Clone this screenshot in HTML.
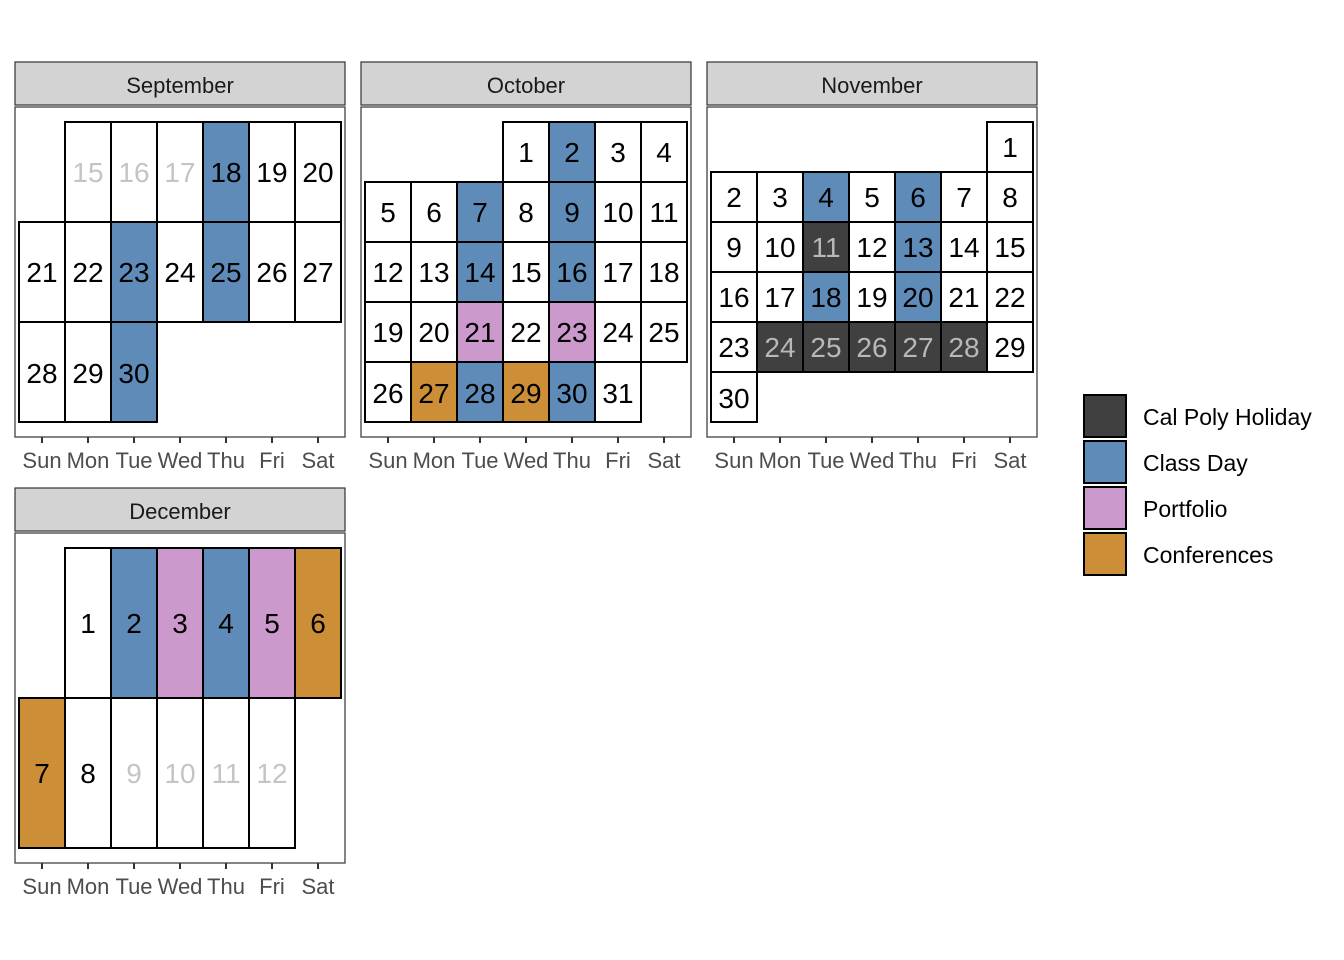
<!DOCTYPE html>
<html><head><meta charset="utf-8"><style>
body{margin:0;background:#fff}
svg{display:block;font-family:"Liberation Sans",Arial,sans-serif}
.c{fill:#fff;stroke:#000;stroke-width:2}
.b{fill:#5f8bb8}.p{fill:#cc99cc}.o{fill:#cc8e36}.d{fill:#404040}
.n{font-size:28px;text-anchor:middle;fill:#000}
.g{fill:#c4c4c4}
.h{fill:#b8b8b8}
.ax{font-size:22px;text-anchor:middle;fill:#4d4d4d}
.st{font-size:22px;text-anchor:middle;fill:#1a1a1a}
.strip{fill:#d3d3d3;stroke:#333;stroke-width:1.2}
.pn{fill:#fff;stroke:#333;stroke-width:1.2}
.tk{stroke:#333;stroke-width:2}
.lg{font-size:23px;fill:#000}
</style></head><body>
<svg width="1344" height="960" viewBox="0 0 1344 960">
<!-- September -->
<rect class="strip" x="15" y="62" width="330" height="43"/><text class="st" x="180" y="93">September</text>
<rect class="pn" x="15" y="107" width="330" height="330"/>
<g>
<rect class="c" x="65" y="122" width="46" height="100"/><text class="n g" x="88" y="182">15</text>
<rect class="c" x="111" y="122" width="46" height="100"/><text class="n g" x="134" y="182">16</text>
<rect class="c" x="157" y="122" width="46" height="100"/><text class="n g" x="180" y="182">17</text>
<rect class="c b" x="203" y="122" width="46" height="100"/><text class="n" x="226" y="182">18</text>
<rect class="c" x="249" y="122" width="46" height="100"/><text class="n" x="272" y="182">19</text>
<rect class="c" x="295" y="122" width="46" height="100"/><text class="n" x="318" y="182">20</text>
<rect class="c" x="19" y="222" width="46" height="100"/><text class="n" x="42" y="282">21</text>
<rect class="c" x="65" y="222" width="46" height="100"/><text class="n" x="88" y="282">22</text>
<rect class="c b" x="111" y="222" width="46" height="100"/><text class="n" x="134" y="282">23</text>
<rect class="c" x="157" y="222" width="46" height="100"/><text class="n" x="180" y="282">24</text>
<rect class="c b" x="203" y="222" width="46" height="100"/><text class="n" x="226" y="282">25</text>
<rect class="c" x="249" y="222" width="46" height="100"/><text class="n" x="272" y="282">26</text>
<rect class="c" x="295" y="222" width="46" height="100"/><text class="n" x="318" y="282">27</text>
<rect class="c" x="19" y="322" width="46" height="100"/><text class="n" x="42" y="383">28</text>
<rect class="c" x="65" y="322" width="46" height="100"/><text class="n" x="88" y="383">29</text>
<rect class="c b" x="111" y="322" width="46" height="100"/><text class="n" x="134" y="383">30</text>
</g>
<g class="tk"><line x1="42" y1="437" x2="42" y2="443"/><line x1="88" y1="437" x2="88" y2="443"/><line x1="134" y1="437" x2="134" y2="443"/><line x1="180" y1="437" x2="180" y2="443"/><line x1="226" y1="437" x2="226" y2="443"/><line x1="272" y1="437" x2="272" y2="443"/><line x1="318" y1="437" x2="318" y2="443"/></g>
<text class="ax" x="42" y="468">Sun</text><text class="ax" x="88" y="468">Mon</text><text class="ax" x="134" y="468">Tue</text><text class="ax" x="180" y="468">Wed</text><text class="ax" x="226" y="468">Thu</text><text class="ax" x="272" y="468">Fri</text><text class="ax" x="318" y="468">Sat</text>

<!-- October -->
<rect class="strip" x="361" y="62" width="330" height="43"/><text class="st" x="526" y="93">October</text>
<rect class="pn" x="361" y="107" width="330" height="330"/>
<rect class="c" x="503" y="122" width="46" height="60"/><text class="n" x="526" y="162">1</text>
<rect class="c b" x="549" y="122" width="46" height="60"/><text class="n" x="572" y="162">2</text>
<rect class="c" x="595" y="122" width="46" height="60"/><text class="n" x="618" y="162">3</text>
<rect class="c" x="641" y="122" width="46" height="60"/><text class="n" x="664" y="162">4</text>
<rect class="c" x="365" y="182" width="46" height="60"/><text class="n" x="388" y="222">5</text>
<rect class="c" x="411" y="182" width="46" height="60"/><text class="n" x="434" y="222">6</text>
<rect class="c b" x="457" y="182" width="46" height="60"/><text class="n" x="480" y="222">7</text>
<rect class="c" x="503" y="182" width="46" height="60"/><text class="n" x="526" y="222">8</text>
<rect class="c b" x="549" y="182" width="46" height="60"/><text class="n" x="572" y="222">9</text>
<rect class="c" x="595" y="182" width="46" height="60"/><text class="n" x="618" y="222">10</text>
<rect class="c" x="641" y="182" width="46" height="60"/><text class="n" x="664" y="222">11</text>
<rect class="c" x="365" y="242" width="46" height="60"/><text class="n" x="388" y="282">12</text>
<rect class="c" x="411" y="242" width="46" height="60"/><text class="n" x="434" y="282">13</text>
<rect class="c b" x="457" y="242" width="46" height="60"/><text class="n" x="480" y="282">14</text>
<rect class="c" x="503" y="242" width="46" height="60"/><text class="n" x="526" y="282">15</text>
<rect class="c b" x="549" y="242" width="46" height="60"/><text class="n" x="572" y="282">16</text>
<rect class="c" x="595" y="242" width="46" height="60"/><text class="n" x="618" y="282">17</text>
<rect class="c" x="641" y="242" width="46" height="60"/><text class="n" x="664" y="282">18</text>
<rect class="c" x="365" y="302" width="46" height="60"/><text class="n" x="388" y="342">19</text>
<rect class="c" x="411" y="302" width="46" height="60"/><text class="n" x="434" y="342">20</text>
<rect class="c p" x="457" y="302" width="46" height="60"/><text class="n" x="480" y="342">21</text>
<rect class="c" x="503" y="302" width="46" height="60"/><text class="n" x="526" y="342">22</text>
<rect class="c p" x="549" y="302" width="46" height="60"/><text class="n" x="572" y="342">23</text>
<rect class="c" x="595" y="302" width="46" height="60"/><text class="n" x="618" y="342">24</text>
<rect class="c" x="641" y="302" width="46" height="60"/><text class="n" x="664" y="342">25</text>
<rect class="c" x="365" y="362" width="46" height="60"/><text class="n" x="388" y="403">26</text>
<rect class="c o" x="411" y="362" width="46" height="60"/><text class="n" x="434" y="403">27</text>
<rect class="c b" x="457" y="362" width="46" height="60"/><text class="n" x="480" y="403">28</text>
<rect class="c o" x="503" y="362" width="46" height="60"/><text class="n" x="526" y="403">29</text>
<rect class="c b" x="549" y="362" width="46" height="60"/><text class="n" x="572" y="403">30</text>
<rect class="c" x="595" y="362" width="46" height="60"/><text class="n" x="618" y="403">31</text>
<g class="tk"><line x1="388" y1="437" x2="388" y2="443"/><line x1="434" y1="437" x2="434" y2="443"/><line x1="480" y1="437" x2="480" y2="443"/><line x1="526" y1="437" x2="526" y2="443"/><line x1="572" y1="437" x2="572" y2="443"/><line x1="618" y1="437" x2="618" y2="443"/><line x1="664" y1="437" x2="664" y2="443"/></g>
<text class="ax" x="388" y="468">Sun</text><text class="ax" x="434" y="468">Mon</text><text class="ax" x="480" y="468">Tue</text><text class="ax" x="526" y="468">Wed</text><text class="ax" x="572" y="468">Thu</text><text class="ax" x="618" y="468">Fri</text><text class="ax" x="664" y="468">Sat</text>

<!-- November -->
<rect class="strip" x="707" y="62" width="330" height="43"/><text class="st" x="872" y="93">November</text>
<rect class="pn" x="707" y="107" width="330" height="330"/>
<rect class="c" x="987" y="122" width="46" height="50"/><text class="n" x="1010" y="157">1</text>
<rect class="c" x="711" y="172" width="46" height="50"/><text class="n" x="734" y="207">2</text>
<rect class="c" x="757" y="172" width="46" height="50"/><text class="n" x="780" y="207">3</text>
<rect class="c b" x="803" y="172" width="46" height="50"/><text class="n" x="826" y="207">4</text>
<rect class="c" x="849" y="172" width="46" height="50"/><text class="n" x="872" y="207">5</text>
<rect class="c b" x="895" y="172" width="46" height="50"/><text class="n" x="918" y="207">6</text>
<rect class="c" x="941" y="172" width="46" height="50"/><text class="n" x="964" y="207">7</text>
<rect class="c" x="987" y="172" width="46" height="50"/><text class="n" x="1010" y="207">8</text>
<rect class="c" x="711" y="222" width="46" height="50"/><text class="n" x="734" y="257">9</text>
<rect class="c" x="757" y="222" width="46" height="50"/><text class="n" x="780" y="257">10</text>
<rect class="c d" x="803" y="222" width="46" height="50"/><text class="n h" x="826" y="257">11</text>
<rect class="c" x="849" y="222" width="46" height="50"/><text class="n" x="872" y="257">12</text>
<rect class="c b" x="895" y="222" width="46" height="50"/><text class="n" x="918" y="257">13</text>
<rect class="c" x="941" y="222" width="46" height="50"/><text class="n" x="964" y="257">14</text>
<rect class="c" x="987" y="222" width="46" height="50"/><text class="n" x="1010" y="257">15</text>
<rect class="c" x="711" y="272" width="46" height="50"/><text class="n" x="734" y="307">16</text>
<rect class="c" x="757" y="272" width="46" height="50"/><text class="n" x="780" y="307">17</text>
<rect class="c b" x="803" y="272" width="46" height="50"/><text class="n" x="826" y="307">18</text>
<rect class="c" x="849" y="272" width="46" height="50"/><text class="n" x="872" y="307">19</text>
<rect class="c b" x="895" y="272" width="46" height="50"/><text class="n" x="918" y="307">20</text>
<rect class="c" x="941" y="272" width="46" height="50"/><text class="n" x="964" y="307">21</text>
<rect class="c" x="987" y="272" width="46" height="50"/><text class="n" x="1010" y="307">22</text>
<rect class="c" x="711" y="322" width="46" height="50"/><text class="n" x="734" y="357">23</text>
<rect class="c d" x="757" y="322" width="46" height="50"/><text class="n h" x="780" y="357">24</text>
<rect class="c d" x="803" y="322" width="46" height="50"/><text class="n h" x="826" y="357">25</text>
<rect class="c d" x="849" y="322" width="46" height="50"/><text class="n h" x="872" y="357">26</text>
<rect class="c d" x="895" y="322" width="46" height="50"/><text class="n h" x="918" y="357">27</text>
<rect class="c d" x="941" y="322" width="46" height="50"/><text class="n h" x="964" y="357">28</text>
<rect class="c" x="987" y="322" width="46" height="50"/><text class="n" x="1010" y="357">29</text>
<rect class="c" x="711" y="372" width="46" height="50"/><text class="n" x="734" y="408">30</text>
<g class="tk"><line x1="734" y1="437" x2="734" y2="443"/><line x1="780" y1="437" x2="780" y2="443"/><line x1="826" y1="437" x2="826" y2="443"/><line x1="872" y1="437" x2="872" y2="443"/><line x1="918" y1="437" x2="918" y2="443"/><line x1="964" y1="437" x2="964" y2="443"/><line x1="1010" y1="437" x2="1010" y2="443"/></g>
<text class="ax" x="734" y="468">Sun</text><text class="ax" x="780" y="468">Mon</text><text class="ax" x="826" y="468">Tue</text><text class="ax" x="872" y="468">Wed</text><text class="ax" x="918" y="468">Thu</text><text class="ax" x="964" y="468">Fri</text><text class="ax" x="1010" y="468">Sat</text>

<!-- December -->
<rect class="strip" x="15" y="488" width="330" height="43"/><text class="st" x="180" y="519">December</text>
<rect class="pn" x="15" y="533" width="330" height="330"/>
<rect class="c" x="65" y="548" width="46" height="150"/><text class="n" x="88" y="633">1</text>
<rect class="c b" x="111" y="548" width="46" height="150"/><text class="n" x="134" y="633">2</text>
<rect class="c p" x="157" y="548" width="46" height="150"/><text class="n" x="180" y="633">3</text>
<rect class="c b" x="203" y="548" width="46" height="150"/><text class="n" x="226" y="633">4</text>
<rect class="c p" x="249" y="548" width="46" height="150"/><text class="n" x="272" y="633">5</text>
<rect class="c o" x="295" y="548" width="46" height="150"/><text class="n" x="318" y="633">6</text>
<rect class="c o" x="19" y="698" width="46" height="150"/><text class="n" x="42" y="783">7</text>
<rect class="c" x="65" y="698" width="46" height="150"/><text class="n" x="88" y="783">8</text>
<rect class="c" x="111" y="698" width="46" height="150"/><text class="n g" x="134" y="783">9</text>
<rect class="c" x="157" y="698" width="46" height="150"/><text class="n g" x="180" y="783">10</text>
<rect class="c" x="203" y="698" width="46" height="150"/><text class="n g" x="226" y="783">11</text>
<rect class="c" x="249" y="698" width="46" height="150"/><text class="n g" x="272" y="783">12</text>
<g class="tk"><line x1="42" y1="863" x2="42" y2="869"/><line x1="88" y1="863" x2="88" y2="869"/><line x1="134" y1="863" x2="134" y2="869"/><line x1="180" y1="863" x2="180" y2="869"/><line x1="226" y1="863" x2="226" y2="869"/><line x1="272" y1="863" x2="272" y2="869"/><line x1="318" y1="863" x2="318" y2="869"/></g>
<text class="ax" x="42" y="894">Sun</text><text class="ax" x="88" y="894">Mon</text><text class="ax" x="134" y="894">Tue</text><text class="ax" x="180" y="894">Wed</text><text class="ax" x="226" y="894">Thu</text><text class="ax" x="272" y="894">Fri</text><text class="ax" x="318" y="894">Sat</text>

<!-- Legend -->
<rect class="c d" x="1084" y="395" width="42" height="42"/><text class="lg" x="1143" y="425">Cal Poly Holiday</text>
<rect class="c b" x="1084" y="441" width="42" height="42"/><text class="lg" x="1143" y="471">Class Day</text>
<rect class="c p" x="1084" y="487" width="42" height="42"/><text class="lg" x="1143" y="517">Portfolio</text>
<rect class="c o" x="1084" y="533" width="42" height="42"/><text class="lg" x="1143" y="563">Conferences</text>
</svg>
</body></html>
